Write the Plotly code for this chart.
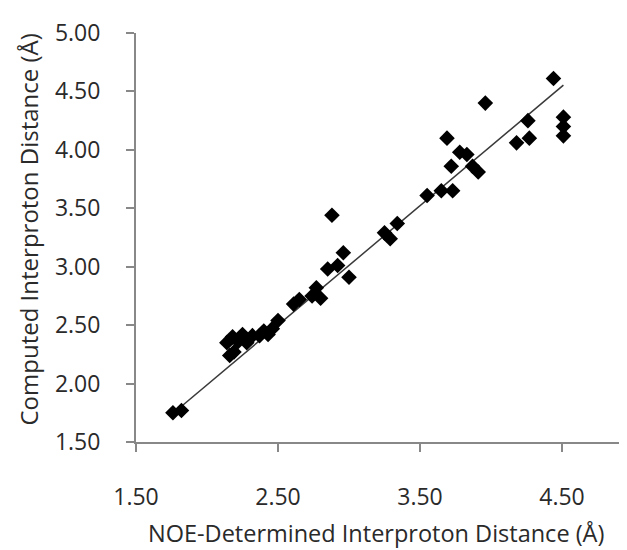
import plotly.graph_objects as go

noe_distance = [1.76, 1.82, 2.14, 2.16, 2.19, 2.18, 2.22, 2.25, 2.28, 2.32,
                2.37, 2.40, 2.43, 2.46, 2.50, 2.61, 2.65, 2.74, 2.77, 2.80,
                2.85, 2.88, 2.92, 2.96, 3.00, 3.25, 3.29, 3.34, 3.55, 3.65,
                3.73, 3.69, 3.72, 3.78, 3.83, 3.87, 3.91, 3.96, 4.18, 4.27,
                4.26, 4.44, 4.51, 4.51, 4.51]
computed_distance = [1.75, 1.77, 2.35, 2.24, 2.27, 2.40, 2.36, 2.42, 2.35, 2.41,
                     2.41, 2.45, 2.42, 2.47, 2.54, 2.68, 2.72, 2.75, 2.82, 2.73,
                     2.98, 3.44, 3.01, 3.12, 2.91, 3.29, 3.24, 3.37, 3.61, 3.65,
                     3.65, 4.10, 3.86, 3.98, 3.96, 3.86, 3.81, 4.40, 4.06, 4.10,
                     4.25, 4.61, 4.28, 4.20, 4.12]

# linear trendline
trend_slope = 1.022
trend_intercept = -0.055

x_ticks = [1.5, 2.5, 3.5, 4.5]
x_tick_labels = ["1.50", "2.50", "3.50", "4.50"]
y_ticks = [1.5, 2.0, 2.5, 3.0, 3.5, 4.0, 4.5, 5.0]
y_tick_labels = ["1.50", "2.00", "2.50", "3.00", "3.50", "4.00", "4.50", "5.00"]

x_title = "NOE-Determined Interproton Distance (Å)"
y_title = "Computed Interproton Distance (Å)"

fit_x = [min(noe_distance), max(noe_distance)]
fit_y = [trend_slope * v + trend_intercept for v in fit_x]

font_family = "Open Sans"
axis_color = "#888888"
text_color = "#2a2a2a"

fig = go.Figure()
fig.add_trace(go.Scatter(
    x=fit_x, y=fit_y, mode="lines",
    line=dict(color="#3a3a3a", width=1.5),
    showlegend=False, hoverinfo="skip",
))
fig.add_trace(go.Scatter(
    x=noe_distance, y=computed_distance, mode="markers",
    marker=dict(symbol="diamond", size=12, color="black"),
    showlegend=False,
))

fig.add_annotation(
    text=x_title, xref="paper", yref="paper", x=0.5, y=0,
    xanchor="center", yanchor="middle", xshift=-6, yshift=-91,
    showarrow=False, font=dict(family=font_family, size=23.5, color=text_color),
)
fig.add_annotation(
    text=y_title, xref="paper", yref="paper", x=0, y=0.5,
    xanchor="center", yanchor="middle", xshift=-108, yshift=8,
    textangle=-90,
    showarrow=False, font=dict(family=font_family, size=24, color=text_color),
)

fig.update_layout(
    width=627, height=550,
    margin=dict(l=128, r=8, t=12, b=116),
    plot_bgcolor="white", paper_bgcolor="white",
    font=dict(family=font_family, color=text_color),
    xaxis=dict(
        range=[1.5, 1.5 + (627 - 136) / 142.0],
        tickmode="array", tickvals=x_ticks, ticktext=x_tick_labels,
        showgrid=False, zeroline=False,
        showline=True, linecolor=axis_color, linewidth=2,
        ticks="outside", ticklen=8, tickwidth=2, tickcolor=axis_color,
        tickfont=dict(size=23, color=text_color),
        ticklabelstandoff=25, ticklabeloverflow="allow",
    ),
    yaxis=dict(
        range=[1.5, 5.0],
        tickmode="array", tickvals=y_ticks, ticktext=y_tick_labels,
        showgrid=False, zeroline=False,
        showline=True, linecolor=axis_color, linewidth=2,
        ticks="outside", ticklen=8, tickwidth=2, tickcolor=axis_color,
        tickfont=dict(size=23, color=text_color),
        ticklabelstandoff=21, ticklabeloverflow="allow",
    ),
)

fig.write_html("out.html")
